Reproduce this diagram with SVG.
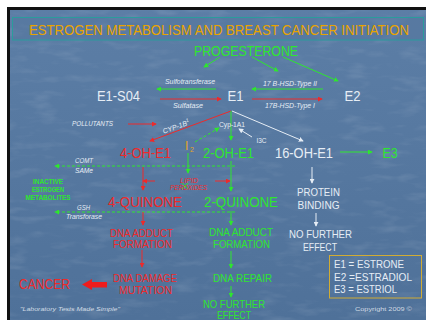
<svg xmlns="http://www.w3.org/2000/svg" width="426" height="320" viewBox="0 0 426 320">
<defs>
<linearGradient id="bg" x1="0" y1="0" x2="0" y2="1">
<stop offset="0" stop-color="#5c7ea6"/>
<stop offset="1" stop-color="#4f7199"/>
</linearGradient>
<filter id="tex" x="0" y="0" width="100%" height="100%">
<feTurbulence type="fractalNoise" baseFrequency="0.035 0.12" numOctaves="3" seed="4"/>
<feColorMatrix type="matrix" values="0 0 0 0 1  0 0 0 0 1  0 0 0 0 1  0 0 0 0.8 -0.4"/>
</filter>
<marker id="mg" viewBox="0 0 6 6" refX="5" refY="3" markerWidth="5" markerHeight="5" markerUnits="userSpaceOnUse" orient="auto"><path d="M0,0 L6,3 L0,6 z" fill="#2ee62e"/></marker>
<marker id="mr" viewBox="0 0 6 6" refX="5" refY="3" markerWidth="5" markerHeight="5" markerUnits="userSpaceOnUse" orient="auto"><path d="M0,0 L6,3 L0,6 z" fill="#ee2a2a"/></marker>
<marker id="mw" viewBox="0 0 6 6" refX="5" refY="3" markerWidth="5" markerHeight="5" markerUnits="userSpaceOnUse" orient="auto"><path d="M0,0 L6,3 L0,6 z" fill="#e6edf5"/></marker>
</defs>
<style>
text{font-family:"Liberation Sans","DejaVu Sans",Arial,sans-serif;}
.g{fill:#2ee62e}
.r{fill:#ee2a2a}
.w{fill:#e6edf5}
.big{font-size:14px}
.mid{font-size:11px}
.sm{font-size:7px;font-style:italic}
.gl{stroke:#2ee62e;stroke-width:1;fill:none;marker-end:url(#mg)}
.rl{stroke:#ee2a2a;stroke-width:1;fill:none;marker-end:url(#mr)}
.wl{stroke:#e6edf5;stroke-width:1;fill:none;marker-end:url(#mw)}
.dash{stroke-dasharray:3 2}
</style>
<rect x="0" y="0" width="426" height="320" fill="#ffffff"/>
<rect x="7" y="7" width="419" height="313" fill="#111"/>
<rect x="10" y="10" width="416" height="310" fill="url(#bg)"/>
<rect x="10" y="10" width="416" height="310" filter="url(#tex)" opacity="0.3"/>

<g id="title">
<rect x="12.5" y="17.5" width="411" height="22.5" fill="#52729b" fill-opacity="0.4" stroke="#2a9c9c" stroke-width="1"/>
<text x="0" y="0" font-size="14" fill="#e9a400" text-anchor="middle" transform="translate(219,35) scale(0.94,1)">ESTROGEN METABOLISM AND BREAST CANCER INITIATION</text>
</g>

<g id="connectors">
<line class="gl" x1="220" y1="57" x2="204" y2="67"/>
<line class="gl" x1="252" y1="57" x2="278" y2="71"/>
<line class="gl" x1="283" y1="57" x2="338" y2="81"/>
<line class="gl" x1="216" y1="89" x2="157" y2="89"/>
<line class="gl" x1="323" y1="89" x2="252" y2="89"/>
<line class="rl" x1="160" y1="99" x2="221" y2="99"/>
<line class="rl" x1="252" y1="99" x2="322" y2="99"/>
<line class="rl" x1="128" y1="124" x2="156" y2="124"/>
<line class="rl" x1="231" y1="111" x2="150" y2="141"/>
<line class="gl" x1="231" y1="111" x2="231" y2="140"/>
<line class="wl" x1="232" y1="111" x2="303" y2="141"/>
<line class="wl" x1="252" y1="137" x2="239" y2="129"/>
<line class="gl dash" x1="195" y1="142" x2="219" y2="128"/>
<line class="gl" x1="188" y1="153" x2="188" y2="173"/>
<path d="M182,183 L188,189 M188,183 L182,189" stroke="#2ee62e" stroke-width="1"/>
<line class="gl" x1="340" y1="152" x2="372" y2="152"/>
<line class="gl dash" x1="235" y1="166" x2="55" y2="166"/>
<line class="gl dash" x1="235" y1="212" x2="55" y2="212"/>
<line class="rl" x1="143" y1="167" x2="143" y2="190"/>
<line class="rl" x1="155" y1="181" x2="143" y2="181"/>
<line class="rl" x1="215" y1="181" x2="230" y2="181"/>
<line class="gl" x1="231" y1="161" x2="231" y2="191"/>
<line class="rl" x1="143" y1="212" x2="143" y2="225"/>
<line class="gl" x1="231" y1="211" x2="231" y2="225"/>
<line class="rl" x1="142" y1="250" x2="142" y2="267"/>
<line class="gl" x1="231" y1="251" x2="231" y2="268"/>
<line class="gl" x1="231" y1="286" x2="231" y2="297"/>
<line class="wl" x1="312" y1="167" x2="312" y2="183"/>
<line class="wl" x1="316" y1="213" x2="316" y2="226"/>
<path d="M82,284.5 L92,279 L92,282 L107,282 L107,287.5 L92,287.5 L92,290 Z" fill="#ee1c1c"/>
</g>

<g id="progesterone"><text class="g big" x="246" y="56" text-anchor="middle" textLength="104" lengthAdjust="spacingAndGlyphs">PROGESTERONE</text></g>
<g id="e1s04"><text class="w big" x="118.5" y="101" text-anchor="middle" textLength="43" lengthAdjust="spacingAndGlyphs">E1-S04</text></g>
<g id="e1"><text class="w big" x="235.5" y="101" text-anchor="middle" textLength="16" lengthAdjust="spacingAndGlyphs">E1</text></g>
<g id="e2"><text class="w big" x="352.5" y="101" text-anchor="middle" textLength="16" lengthAdjust="spacingAndGlyphs">E2</text></g>
<g id="labels-top">
<text class="w sm" x="190" y="84" text-anchor="middle" textLength="50" lengthAdjust="spacingAndGlyphs">Sulfotransferase</text>
<text class="w sm" x="188" y="108" text-anchor="middle" textLength="30" lengthAdjust="spacingAndGlyphs">Sulfatase</text>
<text class="w sm" x="290" y="86" text-anchor="middle" textLength="54" lengthAdjust="spacingAndGlyphs">17 B-HSD-Type II</text>
<text class="w sm" x="290" y="108" text-anchor="middle" textLength="50" lengthAdjust="spacingAndGlyphs">17B-HSD-Type I</text>
<text class="w sm" x="92.5" y="126" text-anchor="middle" textLength="41" lengthAdjust="spacingAndGlyphs">POLLUTANTS</text>
<text class="w sm" x="0" y="0" text-anchor="middle" transform="translate(177,129) rotate(-20)">CYP-1B<tspan font-size="5" dy="-3">1</tspan></text>
<text class="w" x="232" y="127" font-size="7" text-anchor="middle" textLength="26" lengthAdjust="spacingAndGlyphs">Cyp-1A1</text>
<text class="w" x="261.5" y="143" font-size="6.5" text-anchor="middle">I3C</text>
<text x="185" y="150" font-size="12" fill="#e2a52a">I</text>
<text x="190" y="152" font-size="7" fill="#e2a52a">2</text>
</g>
<g id="oh4"><text class="r big" x="145.5" y="158" text-anchor="middle" textLength="51" lengthAdjust="spacingAndGlyphs">4-OH-E1</text></g>
<g id="oh2"><text class="g big" x="228.5" y="158" text-anchor="middle" textLength="51" lengthAdjust="spacingAndGlyphs">2-OH-E1</text></g>
<g id="oh16"><text class="w big" x="304" y="158" text-anchor="middle" textLength="58" lengthAdjust="spacingAndGlyphs">16-OH-E1</text></g>
<g id="e3"><text class="g big" x="390" y="158" text-anchor="middle" textLength="15" lengthAdjust="spacingAndGlyphs">E3</text></g>
<g id="labels-mid">
<text class="w sm" x="84" y="163" text-anchor="middle" textLength="18" lengthAdjust="spacingAndGlyphs">COMT</text>
<text class="w sm" x="84" y="173" text-anchor="middle" textLength="18" lengthAdjust="spacingAndGlyphs">SAMe</text>
<text class="w sm" x="83.5" y="210" text-anchor="middle" textLength="13" lengthAdjust="spacingAndGlyphs">GSH</text>
<text class="w sm" x="84" y="219" text-anchor="middle" textLength="36" lengthAdjust="spacingAndGlyphs">Transforase</text>
<text class="r sm" x="189" y="183" font-size="6.5" text-anchor="middle" textLength="18" lengthAdjust="spacingAndGlyphs">LIPID</text>
<text class="r sm" x="188.5" y="190" font-size="6.5" text-anchor="middle" textLength="37" lengthAdjust="spacingAndGlyphs">PEROXIDES</text>
</g>
<g id="inactive">
<text class="g" x="48" y="184" font-size="6.5" font-weight="bold" text-anchor="middle" textLength="30" lengthAdjust="spacingAndGlyphs">INACTIVE</text>
<text class="g" x="48" y="192" font-size="6.5" font-weight="bold" text-anchor="middle" textLength="32" lengthAdjust="spacingAndGlyphs">ESTROGEN</text>
<text class="g" x="48" y="200" font-size="6.5" font-weight="bold" text-anchor="middle" textLength="45" lengthAdjust="spacingAndGlyphs">METABOLITES</text>
</g>
<g id="q4"><text class="r big" x="145" y="207" text-anchor="middle" textLength="74" lengthAdjust="spacingAndGlyphs">4-QUINONE</text></g>
<g id="q2"><text class="g big" x="241" y="207" text-anchor="middle" textLength="74" lengthAdjust="spacingAndGlyphs">2-QUINONE</text></g>
<g id="protein">
<text class="w" x="318.5" y="196" font-size="10" text-anchor="middle" textLength="43" lengthAdjust="spacingAndGlyphs">PROTEIN</text>
<text class="w" x="318.5" y="209" font-size="10" text-anchor="middle" textLength="42" lengthAdjust="spacingAndGlyphs">BINDING</text>
</g>
<g id="nfe-white">
<text class="w mid" x="320.5" y="238" text-anchor="middle" textLength="63" lengthAdjust="spacingAndGlyphs">NO FURTHER</text>
<text class="w mid" x="320" y="251" text-anchor="middle" textLength="34" lengthAdjust="spacingAndGlyphs">EFFECT</text>
</g>
<g id="adduct-red">
<text class="r mid" x="141.5" y="237" text-anchor="middle" textLength="63" lengthAdjust="spacingAndGlyphs">DNA ADDUCT</text>
<text class="r mid" x="142.5" y="248" text-anchor="middle" textLength="59" lengthAdjust="spacingAndGlyphs">FORMATION</text>
</g>
<g id="adduct-green">
<text class="g mid" x="241" y="236" text-anchor="middle" textLength="64" lengthAdjust="spacingAndGlyphs">DNA ADDUCT</text>
<text class="g mid" x="241.5" y="248" text-anchor="middle" textLength="57" lengthAdjust="spacingAndGlyphs">FORMATION</text>
</g>
<g id="damage">
<text class="r mid" x="145" y="282" text-anchor="middle" textLength="64" lengthAdjust="spacingAndGlyphs">DNA DAMAGE</text>
<text class="r mid" x="145.5" y="294" text-anchor="middle" textLength="53" lengthAdjust="spacingAndGlyphs">MUTATION</text>
</g>
<g id="cancer"><text class="r big" x="44.5" y="289" text-anchor="middle" textLength="51" lengthAdjust="spacingAndGlyphs">CANCER</text></g>
<g id="repair"><text class="g mid" x="242.5" y="282" text-anchor="middle" textLength="59" lengthAdjust="spacingAndGlyphs">DNA REPAIR</text></g>
<g id="nfe-green">
<text class="g mid" x="234" y="308" text-anchor="middle" textLength="62" lengthAdjust="spacingAndGlyphs">NO FURTHER</text>
<text class="g mid" x="234" y="319" text-anchor="middle" textLength="34" lengthAdjust="spacingAndGlyphs">EFFECT</text>
</g>
<g id="legend">
<rect x="329.5" y="255.5" width="92" height="42.5" fill="none" stroke="#d1ac34" stroke-width="1"/>
<text class="w mid" x="334" y="268" textLength="70" lengthAdjust="spacingAndGlyphs">E1 = ESTRONE</text>
<text class="w mid" x="334" y="281" textLength="78" lengthAdjust="spacingAndGlyphs">E2 =ESTRADIOL</text>
<text class="w mid" x="334" y="293" textLength="63" lengthAdjust="spacingAndGlyphs">E3 = ESTRIOL</text>
</g>
<g id="footer">
<text class="w" x="20" y="311" font-size="6" font-style="italic" textLength="100" lengthAdjust="spacingAndGlyphs" fill-opacity="0.85">"Laboratory Tests Made Simple"</text>
<text class="w" x="355" y="311" font-size="6" textLength="57" lengthAdjust="spacingAndGlyphs" fill-opacity="0.85">Copyright 2009 ©</text>
</g>
</svg>
